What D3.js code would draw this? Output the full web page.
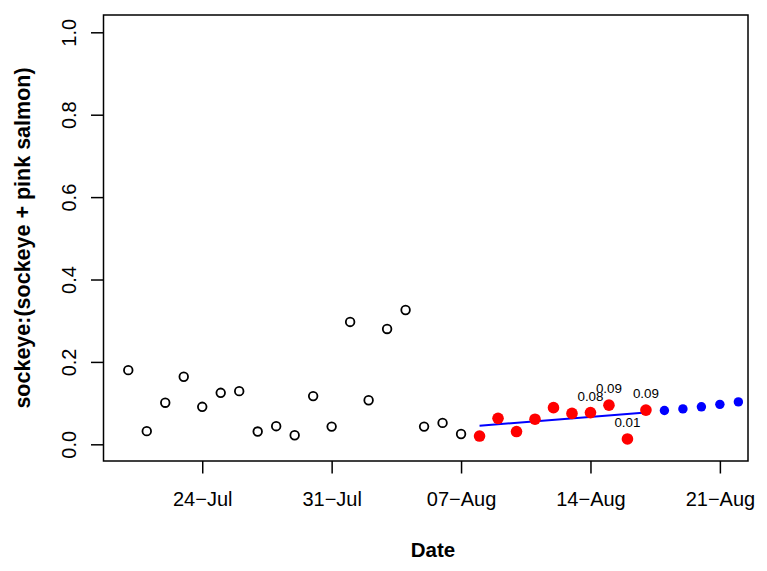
<!DOCTYPE html>
<html>
<head>
<meta charset="utf-8">
<script src="https://cdn.jsdelivr.net/npm/d3@7"></script>
<style>
  body { margin: 0; background: #fff; }
  text { font-family: "Liberation Sans", Arial, sans-serif; fill: #000; }
</style>
</head>
<body>
<div id="canvas"></div>
<script>
// observed days (open circles), Jul 20 - Aug 7
var openStart = "2013-07-20", openEnd = "2013-08-08";
var openVals = [0.180,0.032,0.101,0.164,0.091,0.125,0.129,0.031,0.044,0.022,
                0.117,0.043,0.297,0.107,0.280,0.326,0.043,0.052,0.025];

// fit window (red), Aug 8 - Aug 17
var redStart = "2013-08-08", redEnd = "2013-08-18";
var redVals = [0.020,0.063,0.031,0.061,0.089,0.075,0.077,0.095,0.013,0.083];

// projection (blue), Aug 18 - Aug 22
var blueStart = "2013-08-18", blueEnd = "2013-08-23";
var blueVals = [0.082,0.086,0.091,0.097,0.103];

// fitted line ends
var fitDates = ["2013-08-08","2013-08-17"];
var fitVals = [0.045,0.077];

// labels on some red points
var labDates = ["2013-08-14","2013-08-15","2013-08-16","2013-08-17"];
var labVals = [0.077,0.095,0.013,0.083];
var labText = ["0.08","0.09","0.01","0.09"];

var xTickDates = ["2013-07-24","2013-07-31","2013-08-07","2013-08-14","2013-08-21"];
var xTickLabels = ["24\u2212Jul","31\u2212Jul","07\u2212Aug","14\u2212Aug","21\u2212Aug"];
var yTicks = [0,0.2,0.4,0.6,0.8,1.0];

var W = 767, H = 571;
var m = {t:15, r:19, b:110, l:103.5};
var w = W - m.l - m.r, h = H - m.t - m.b;

var parse = d3.utcParse("%Y-%m-%d");
function days(a, b) { return d3.utcDays(parse(a), parse(b)); }
function pts(dates, vals) { return dates.map(function(d,i){ return {d:d, v:vals[i]}; }); }

var openData = pts(days(openStart, openEnd), openVals);
var redData = pts(days(redStart, redEnd), redVals);
var blueData = pts(days(blueStart, blueEnd), blueVals);
var labData = labDates.map(function(d,i){ return {d:parse(d), v:labVals[i], t:labText[i]}; });

var svg = d3.select('#canvas').append('svg')
  .attr('width', W).attr('height', H);
var plot = svg.append('g').attr('transform','translate(' + m.l + ',' + m.t + ')');

var scaleX = d3.scaleUtc()
  .domain([new Date("2013-07-18T15:50Z"), new Date("2013-08-22T12:30Z")])
  .range([0, w]);
var scaleY = d3.scaleLinear()
  .domain([-0.0405, 1.042])
  .range([h, 0]);

// axes
var axisX = d3.axisBottom(scaleX)
  .tickValues(xTickDates.map(parse))
  .tickFormat(function(d,i){ return xTickLabels[i]; })
  .tickSize(12.5).tickPadding(18);
var gx = plot.append('g').attr('class','axis axis-x')
  .attr('transform','translate(0,' + h + ')').call(axisX);

var axisY = d3.axisLeft(scaleY)
  .tickValues(yTicks)
  .tickFormat(d3.format('.1f'))
  .tickSize(12.5);
var gy = plot.append('g').attr('class','axis axis-y').call(axisY);

[gx, gy].forEach(function(g){
  g.select('.domain').remove();
  g.selectAll('line').attr('stroke','#000').attr('stroke-width',1.5);
  g.selectAll('text').style('font-size','20px').attr('fill','#000');
});
gy.selectAll('text')
  .attr('x', null).attr('dy', null)
  .attr('text-anchor','middle')
  .attr('transform','translate(-28,0) rotate(-90)');

// box
plot.append('rect')
  .attr('width', w).attr('height', h)
  .attr('fill','none').attr('stroke','#000').attr('stroke-width',1.5);

// titles
svg.append('text')
  .attr('x', 433).attr('y', 557)
  .attr('text-anchor','middle')
  .style('font-size','20.5px').style('font-weight','bold')
  .text('Date');
svg.append('text')
  .attr('transform','translate(30,' + (m.t + h/2) + ') rotate(-90)')
  .attr('text-anchor','middle')
  .style('font-size','21.5px').style('font-weight','bold')
  .text('sockeye:(sockeye + pink salmon)');

// open circles
plot.selectAll('circle.open').data(openData).enter().append('circle')
  .attr('class','open')
  .attr('cx', function(d){ return scaleX(d.d); })
  .attr('cy', function(d){ return scaleY(d.v); })
  .attr('r', 4.3)
  .attr('fill','none').attr('stroke','#000').attr('stroke-width',1.8);

// fitted line
plot.append('line')
  .attr('x1', scaleX(parse(fitDates[0]))).attr('y1', scaleY(fitVals[0]))
  .attr('x2', scaleX(parse(fitDates[1]))).attr('y2', scaleY(fitVals[1]))
  .attr('stroke','#0000ff').attr('stroke-width',2);

// red points
plot.selectAll('circle.red').data(redData).enter().append('circle')
  .attr('class','red')
  .attr('cx', function(d){ return scaleX(d.d); })
  .attr('cy', function(d){ return scaleY(d.v); })
  .attr('r', 5.8).attr('fill','#ff0000');

// blue points
plot.selectAll('circle.blue').data(blueData).enter().append('circle')
  .attr('class','blue')
  .attr('cx', function(d){ return scaleX(d.d); })
  .attr('cy', function(d){ return scaleY(d.v); })
  .attr('r', 4.7).attr('fill','#0000ff');

// value labels
plot.selectAll('text.lab').data(labData).enter().append('text')
  .attr('class','lab')
  .attr('x', function(d){ return scaleX(d.d); })
  .attr('y', function(d){ return scaleY(d.v) - 12; })
  .attr('text-anchor','middle')
  .style('font-size','13.4px')
  .text(function(d){ return d.t; });
</script>
</body>
</html>
